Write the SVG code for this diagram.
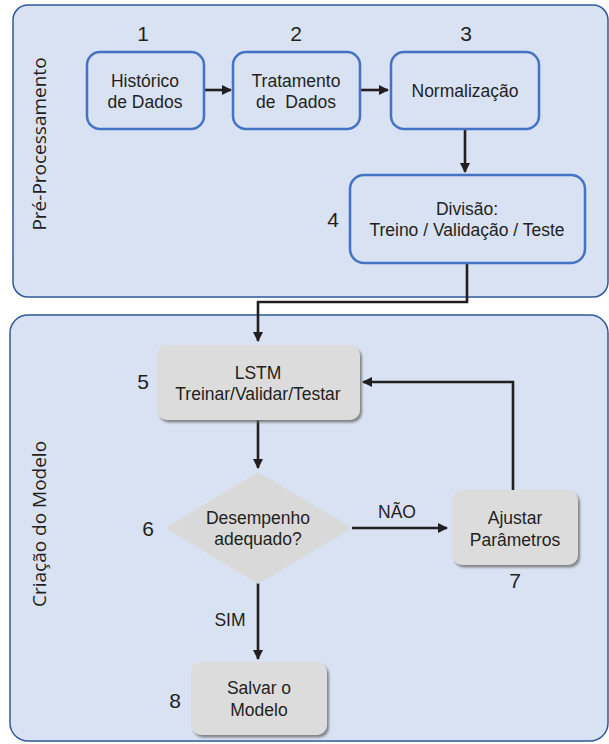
<svg xmlns="http://www.w3.org/2000/svg" width="609" height="744" viewBox="0 0 609 744">
<style>
.panel{fill:#D9E2F3;stroke:#2F5A98;stroke-width:1.5}
.bnode{fill:#D9E2F3;stroke:#4472C4;stroke-width:2.5}
.gnode{fill:#DCDCDC;stroke:none}
.t{font-family:"Liberation Sans",Arial,sans-serif;font-size:17.5px;fill:#231F20;text-anchor:middle}
.num{font-family:"Liberation Sans",Arial,sans-serif;font-size:21px;fill:#231F20;text-anchor:middle}
.side{font-family:"Open Sans","Liberation Sans",sans-serif;font-size:19px;fill:#231F20;text-anchor:middle}
.c{fill:none;stroke:#231F20;stroke-width:2.6}
</style>
<defs>
<marker id="ah" markerWidth="12" markerHeight="12" refX="9" refY="5.5" orient="auto" markerUnits="userSpaceOnUse">
<path d="M0,0.5 L10,5.5 L0,10.5 Z" fill="#231F20"/>
</marker>
<filter id="sh" x="-10%" y="-10%" width="130%" height="130%">
<feDropShadow dx="2" dy="2.5" stdDeviation="1.2" flood-color="#6b6b6b" flood-opacity="0.8"/>
</filter>
</defs>

<g id="panel-pre">
<rect class="panel" x="13" y="5" width="595" height="292" rx="15"/>
<text class="side" transform="translate(46,144) rotate(-90)">Pré-Processamento</text>
</g>
<g id="panel-model">
<rect class="panel" x="10" y="315" width="598" height="426" rx="18"/>
<text class="side" transform="translate(46,524) rotate(-90)">Criação do Modelo</text>
</g>

<g id="connectors">
<line class="c" x1="204" y1="90" x2="231" y2="90" marker-end="url(#ah)"/>
<line class="c" x1="360" y1="90" x2="388" y2="90" marker-end="url(#ah)"/>
<line class="c" x1="465" y1="129" x2="465" y2="172" marker-end="url(#ah)"/>
<polyline class="c" points="467,263 467,302 258,302 258,341" marker-end="url(#ah)"/>
<line class="c" x1="258" y1="420" x2="258" y2="468" marker-end="url(#ah)"/>
<line class="c" x1="352" y1="528" x2="447" y2="528" marker-end="url(#ah)"/>
<polyline class="c" points="513,490 513,382 363,382" marker-end="url(#ah)"/>
<line class="c" x1="258" y1="583" x2="258" y2="659" marker-end="url(#ah)"/>
<text class="t" x="397" y="518">NÃO</text>
<text class="t" x="230" y="626">SIM</text>
</g>

<g id="n1">
<rect class="bnode" x="87" y="52" width="117" height="77" rx="13"/>
<text class="t" x="145" y="87">Histórico</text>
<text class="t" x="145" y="108">de Dados</text>
<text class="num" x="143" y="41">1</text>
</g>
<g id="n2">
<rect class="bnode" x="233" y="52" width="127" height="77" rx="13"/>
<text class="t" x="296" y="87">Tratamento</text>
<text class="t" x="296" y="108" xml:space="preserve">de  Dados</text>
<text class="num" x="296" y="41">2</text>
</g>
<g id="n3">
<rect class="bnode" x="391" y="52" width="148" height="77" rx="13"/>
<text class="t" x="465" y="97">Normalização</text>
<text class="num" x="466" y="41">3</text>
</g>
<g id="n4">
<rect class="bnode" x="350" y="175" width="235" height="88" rx="14"/>
<text class="t" x="467" y="215">Divisão:</text>
<text class="t" x="467" y="236">Treino / Validação / Teste</text>
<text class="num" x="333" y="227">4</text>
</g>
<g id="n5">
<rect class="gnode" x="157" y="345" width="203" height="75" rx="10" filter="url(#sh)"/>
<text class="t" x="258" y="379">LSTM</text>
<text class="t" x="258" y="400">Treinar/Validar/Testar</text>
<text class="num" x="143" y="389">5</text>
</g>
<g id="n6">
<polygon points="258,472 352,528 258,584 165,528" fill="#D9D9D9"/>
<text class="t" x="258" y="524">Desempenho</text>
<text class="t" x="258" y="545">adequado?</text>
<text class="num" x="148" y="536">6</text>
</g>
<g id="n7">
<rect class="gnode" x="452" y="490" width="126" height="75" rx="10" filter="url(#sh)"/>
<text class="t" x="515" y="524">Ajustar</text>
<text class="t" x="515" y="546">Parâmetros</text>
<text class="num" x="515" y="588">7</text>
</g>
<g id="n8">
<rect class="gnode" x="191" y="662" width="136" height="73" rx="10" filter="url(#sh)"/>
<text class="t" x="259" y="694">Salvar o</text>
<text class="t" x="259" y="716">Modelo</text>
<text class="num" x="175" y="708">8</text>
</g>
</svg>
